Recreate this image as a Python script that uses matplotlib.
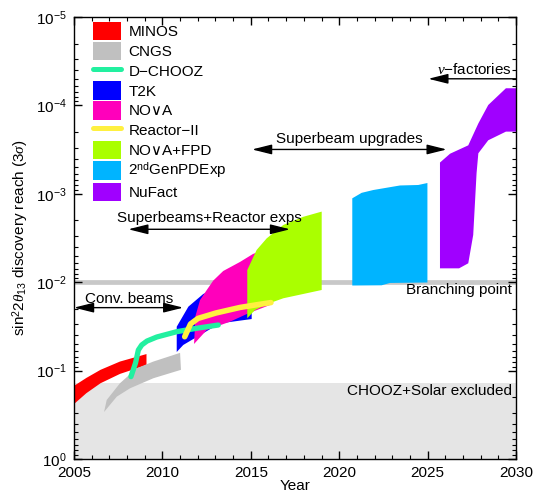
import matplotlib
matplotlib.use('Agg')
import matplotlib.pyplot as plt
from matplotlib.patches import Patch
from matplotlib.lines import Line2D
from matplotlib.ticker import MultipleLocator, LogLocator, NullFormatter
import numpy as np

plt.rcParams['font.family'] = ['Liberation Sans', 'DejaVu Sans']
plt.rcParams['mathtext.fontset'] = 'custom'
plt.rcParams['mathtext.rm'] = 'Liberation Sans'
plt.rcParams['mathtext.it'] = 'Liberation Serif:italic'
plt.rcParams['mathtext.bf'] = 'Liberation Sans:bold'
plt.rcParams['font.size'] = 11

# ---------------- data (year, sin^2 2theta13) ----------------
minos_top_x = [2005.0, 2005.7, 2006.5, 2007.6, 2009.1]
minos_top_y = [0.149, 0.121, 0.098, 0.079, 0.065]
minos_bot_x = [2005.0, 2005.7, 2006.5, 2007.6, 2009.1]
minos_bot_y = [0.239, 0.180, 0.139, 0.109, 0.0865]

cngs_top_x = [2006.85, 2007.60, 2008.55, 2009.49, 2011.0]
cngs_top_y = [0.215, 0.139, 0.094, 0.079, 0.063]
cngs_bot_x = [2006.70, 2007.42, 2008.17, 2009.49, 2011.05]
cngs_bot_y = [0.294, 0.197, 0.1585, 0.122, 0.098]

dchooz_x = [2008.22, 2008.48, 2008.64, 2008.83, 2009.13, 2009.68, 2010.81, 2011.94, 2013.16]
dchooz_y = [0.117, 0.082, 0.0585, 0.0513, 0.0463, 0.0417, 0.0363, 0.0332, 0.0305]

t2k_top_x = [2010.81, 2011.47, 2012.31, 2013.54, 2015.05]
t2k_top_y = [0.0319, 0.0189, 0.0136, 0.0105, 0.0085]
t2k_bot_x = [2010.81, 2011.18, 2012.13, 2013.26, 2015.05]
t2k_bot_y = [0.0616, 0.0513, 0.0396, 0.0292, 0.0261]

nova_top_x = [2011.79, 2011.87, 2012.13, 2012.51, 2012.88, 2013.44, 2014.39, 2015.12, 2016.09]
nova_top_y = [0.050, 0.0241, 0.0159, 0.01225, 0.00957, 0.00747, 0.0059, 0.0048, 0.0040]
nova_bot_x = [2011.79, 2012.51, 2013.82, 2014.86, 2016.09]
nova_bot_y = [0.050, 0.0347, 0.028, 0.0225, 0.0181]

reactor_x = [2011.26, 2011.59, 2012.01, 2013.03, 2014.39, 2015.41, 2016.14]
reactor_y = [0.0414, 0.0297, 0.0257, 0.0223, 0.0193, 0.0179, 0.0170]

fpd_top_x = [2014.80, 2015.33, 2015.90, 2016.84, 2017.97, 2019.01]
fpd_top_y = [0.00728, 0.00432, 0.00319, 0.00225, 0.00182, 0.00159]
fpd_bot_x = [2014.80, 2015.24, 2016.09, 2016.84, 2019.01]
fpd_bot_y = [0.0256, 0.0206, 0.0172, 0.0152, 0.01225]

gen2_top_x = [2020.74, 2021.27, 2021.93, 2022.49, 2023.44, 2024.47, 2024.99]
gen2_top_y = [0.001125, 0.000975, 0.000906, 0.000867, 0.000805, 0.000795, 0.000755]
gen2_bot_x = [2020.74, 2022.40, 2022.87, 2024.99]
gen2_bot_y = [0.0109, 0.01084, 0.0102, 0.01008]

nufact_top_x = [2025.70, 2026.27, 2027.30, 2027.87, 2028.43, 2029.43, 2030.0]
nufact_top_y = [0.000443, 0.000352, 0.000283, 0.000160, 9.9e-5, 6.4e-5, 6.4e-5]
nufact_bot_x = [2025.70, 2026.78, 2027.30, 2027.58, 2027.77, 2027.87, 2028.43, 2029.43, 2030.0]
nufact_bot_y = [0.00697, 0.00697, 0.00611, 0.00292, 0.000582, 0.000348, 0.000248, 0.000198, 0.000198]

chooz_limit = 0.137
branching = 0.01

labels = ['MINOS', 'CNGS', 'D\u2212CHOOZ', 'T2K', 'NO\u2228A', 'Reactor\u2212II',
          'NO\u2228A+FPD', '2$^{\\mathrm{nd}}$GenPDExp', 'NuFact']

c_minos = '#ff0000'
c_cngs = '#c0c0c0'
c_dchooz = '#22f0a0'
c_t2k = '#0000ff'
c_nova = '#ff00bb'
c_reactor = '#fff040'
c_fpd = '#aaff00'
c_gen2 = '#00b4ff'
c_nufact = '#a000ff'

# ---------------- figure ----------------
fig = plt.figure(figsize=(5.34, 4.95), dpi=100)
ax = fig.add_axes([74/534, 36/495, 442/534, 442/495])
ax.set_yscale('log')
ax.set_xlim(2005, 2030)
ax.set_ylim(1, 1e-5)

ax.axhspan(chooz_limit, 1, color='#e5e5e5', lw=0, zorder=0)
ax.axhline(branching, color='#c8c8c8', lw=3.4, zorder=1)


def band(tx, ty, bx, by, c):
    xs = list(tx) + list(bx)[::-1]
    ys = list(ty) + list(by)[::-1]
    ax.fill(xs, ys, color=c, lw=0, zorder=2)


band(minos_top_x, minos_top_y, minos_bot_x, minos_bot_y, c_minos)
band(cngs_top_x, cngs_top_y, cngs_bot_x, cngs_bot_y, c_cngs)
band(t2k_top_x, t2k_top_y, t2k_bot_x, t2k_bot_y, c_t2k)
band(nova_top_x, nova_top_y, nova_bot_x, nova_bot_y, c_nova)
band(fpd_top_x, fpd_top_y, fpd_bot_x, fpd_bot_y, c_fpd)
band(gen2_top_x, gen2_top_y, gen2_bot_x, gen2_bot_y, c_gen2)
band(nufact_top_x, nufact_top_y, nufact_bot_x, nufact_bot_y, c_nufact)

ax.plot(dchooz_x, dchooz_y, color=c_dchooz, lw=3.8, solid_capstyle='round',
        solid_joinstyle='round', zorder=3)
ax.plot(reactor_x, reactor_y, color=c_reactor, lw=4.0, solid_capstyle='round',
        solid_joinstyle='round', zorder=4)

# ---------------- annotations ----------------
def arrow(x0, x1, y, style):
    ax.annotate('', xy=(x0, y), xytext=(x1, y),
                arrowprops=dict(arrowstyle=style + ',head_length=1.2,head_width=0.3',
                                color='black', lw=1, shrinkA=0, shrinkB=0,
                                mutation_scale=10), zorder=5)


arrow(2005.0, 2011.18, 0.0194, '<|-|>')
ax.text(2008.11, 0.0155, 'Conv. beams', ha='center', va='center', zorder=6)

arrow(2008.07, 2017.22, 2.52e-3, '<|-|>')
ax.text(2012.64, 1.9e-3, 'Superbeams+Reactor exps', ha='center', va='center', zorder=6)

arrow(2015.07, 2026.08, 3.15e-4, '<|-|>')
ax.text(2020.55, 2.4e-4, 'Superbeam upgrades', ha='center', va='center', zorder=6)

arrow(2025.04, 2030.0, 5.0e-5, '-|>')
ax.text(2029.77, 3.9e-5, '$\\nu$\u2212factories', ha='right', va='center', zorder=6)

ax.text(2029.77, 0.0122, 'Branching point', ha='right', va='center', zorder=6)
ax.text(2029.77, 0.17, 'CHOOZ+Solar excluded', ha='right', va='center', zorder=6)

# ---------------- legend ----------------
handles = [
    Patch(facecolor=c_minos, edgecolor='none'),
    Patch(facecolor=c_cngs, edgecolor='none'),
    Line2D([], [], color=c_dchooz, lw=3.6, solid_capstyle='round'),
    Patch(facecolor=c_t2k, edgecolor='none'),
    Patch(facecolor=c_nova, edgecolor='none'),
    Line2D([], [], color=c_reactor, lw=3.6, solid_capstyle='round'),
    Patch(facecolor=c_fpd, edgecolor='none'),
    Patch(facecolor=c_gen2, edgecolor='none'),
    Patch(facecolor=c_nufact, edgecolor='none'),
]
leg = ax.legend(handles, labels, loc='upper left',
                bbox_to_anchor=(19.3/442, 1 - 4.7/442), frameon=False,
                borderpad=0, borderaxespad=0, handlelength=1.81, handleheight=1.47,
                labelspacing=0.1, handletextpad=0.48, fontsize=11)
leg.set_zorder(7)

# ---------------- axes styling ----------------
ax.xaxis.set_major_locator(MultipleLocator(5))
ax.xaxis.set_minor_locator(MultipleLocator(1))
ax.yaxis.set_major_locator(LogLocator(base=10, numticks=10))
ax.yaxis.set_minor_locator(LogLocator(base=10, subs=np.arange(2, 10), numticks=10))
ax.yaxis.set_minor_formatter(NullFormatter())
ax.tick_params(which='both', direction='in', top=True, right=True, labelsize=11)
ax.tick_params(which='major', length=6, width=1)
ax.tick_params(which='minor', length=3, width=0.8)
ax.tick_params(axis='x', pad=5)
ax.tick_params(axis='y', pad=5)
for s in ax.spines.values():
    s.set_linewidth(1.0)

ax.set_xlabel('Year', labelpad=-1)
ax.set_ylabel('sin$^{\\mathrm{2}}$2$\\theta_{\\mathrm{13}}$ discovery reach (3$\\sigma$)', labelpad=4)

fig.savefig('out.png', dpi=100)
